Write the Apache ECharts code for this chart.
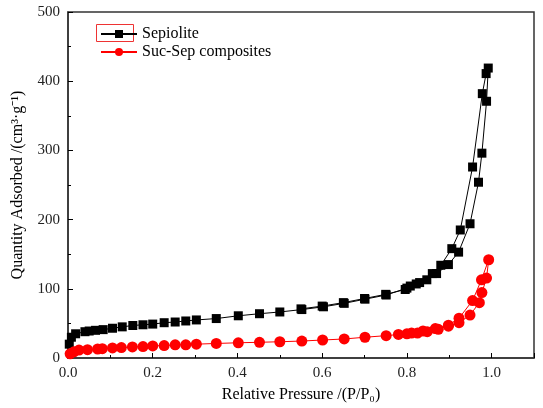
<!DOCTYPE html>
<html>
<head>
<meta charset="utf-8">
<script src="https://cdn.jsdelivr.net/npm/echarts@6/dist/echarts.min.js"></script>
<style>
html,body{margin:0;padding:0;background:#fff;}
#chart{width:543px;height:408px;}
</style>
</head>
<body>
<div id="chart"></div>
<script>
// N2 isotherms: adsorption branch then desorption branch, [P/P0, quantity]
var sepioliteAds = [[0.003,20],[0.008,30],[0.018,35],[0.04,38],[0.05,39],[0.065,40],[0.083,41],[0.105,43],[0.128,45],[0.153,47],[0.177,48],[0.2,49],[0.227,51],[0.253,52],[0.278,53.5],[0.303,55],[0.35,57],[0.402,61],[0.452,64],[0.5,66.5],[0.552,70],[0.603,74],[0.652,79],[0.701,85],[0.751,91],[0.8,101],[0.822,107],[0.847,113],[0.87,122],[0.898,135],[0.922,153],[0.949,194],[0.969,254],[0.977,296],[0.988,371],[0.992,419]];
var sepioliteDes = [[0.987,411],[0.978,382],[0.955,276],[0.926,185],[0.906,158],[0.88,134],[0.86,122],[0.83,109],[0.808,104],[0.796,99],[0.75,92],[0.7,86],[0.65,80],[0.6,75],[0.55,71]];
var sucSepAds = [[0.005,6],[0.014,9],[0.026,11.5],[0.046,12],[0.07,13],[0.081,13.5],[0.105,14.5],[0.126,15],[0.152,16],[0.177,16.5],[0.2,17.4],[0.227,18],[0.253,19],[0.278,19],[0.303,20],[0.35,21],[0.402,22],[0.452,22.7],[0.5,23.5],[0.552,24.5],[0.601,26],[0.652,27.5],[0.701,30],[0.751,32.3],[0.8,35],[0.825,36],[0.848,38],[0.874,41.5],[0.898,46],[0.923,51],[0.949,62],[0.971,80],[0.977,94.5],[0.988,115.5],[0.993,142]];
var sucSepDes = [[0.976,113],[0.955,83],[0.923,57.5],[0.898,47.5],[0.867,42.5],[0.838,39],[0.811,36],[0.78,34]];
var seriesNames = ['Sepiolite','Suc-Sep composites'];

var myChart = echarts.init(document.getElementById('chart'));
var font = 'Liberation Serif';

var option = {
	animation:false,
	backgroundColor:'#fff',
	grid:{left:68,right:9,top:12,bottom:50,show:true,borderColor:'#333',borderWidth:1.5,backgroundColor:'transparent'},
	legend:{
		orient:'vertical',left:95,top:21,itemWidth:36,itemHeight:10,itemGap:2,
		textStyle:{fontFamily:font,fontSize:16,color:'#000'},
		data:seriesNames
	},
	graphic:[{
		type:'rect',left:94,top:22,
		shape:{width:37,height:17},
		style:{fill:'none',stroke:'#e33',lineWidth:1}
	}],
	xAxis:{
		type:'value',min:0,max:1.1,interval:0.2,
		name:'Relative Pressure /(P/P\u2080)',nameLocation:'middle',nameGap:29,
		nameTextStyle:{fontFamily:font,fontSize:16,color:'#000'},
		axisLine:{lineStyle:{color:'#333',width:1.5}},
		axisTick:{inside:true,length:5,lineStyle:{color:'#000'}},
		minorTick:{show:true,splitNumber:2,length:3,lineStyle:{color:'#000'}},
		splitLine:{show:false},
		axisLabel:{fontFamily:font,fontSize:15,color:'#222',showMaxLabel:false,
			formatter:function(v){return v.toFixed(1);}}
	},
	yAxis:{
		type:'value',min:0,max:500,interval:100,
		name:'Quantity Adsorbed /(cm\u00b3\u00b7g\u207b\u00b9)',nameLocation:'middle',nameGap:42,
		nameTextStyle:{fontFamily:font,fontSize:16,color:'#000'},
		axisLine:{show:true,lineStyle:{color:'#333',width:1.5}},
		axisTick:{show:true,inside:true,length:5,lineStyle:{color:'#000'}},
		minorTick:{show:true,splitNumber:2,length:3,lineStyle:{color:'#000'}},
		splitLine:{show:false},
		axisLabel:{fontFamily:font,fontSize:15,color:'#222'}
	},
	series:[
		{
			name:seriesNames[0],type:'line',
			data:sepioliteAds.concat(sepioliteDes),
			symbol:'rect',symbolSize:9,
			itemStyle:{color:'#000'},
			lineStyle:{color:'#000',width:1}
		},
		{
			name:seriesNames[1],type:'line',
			data:sucSepAds.concat(sucSepDes),
			symbol:'circle',symbolSize:11,
			itemStyle:{color:'#f00'},
			lineStyle:{color:'#f00',width:1}
		}
	]
};
myChart.setOption(option);
</script>
</body>
</html>
